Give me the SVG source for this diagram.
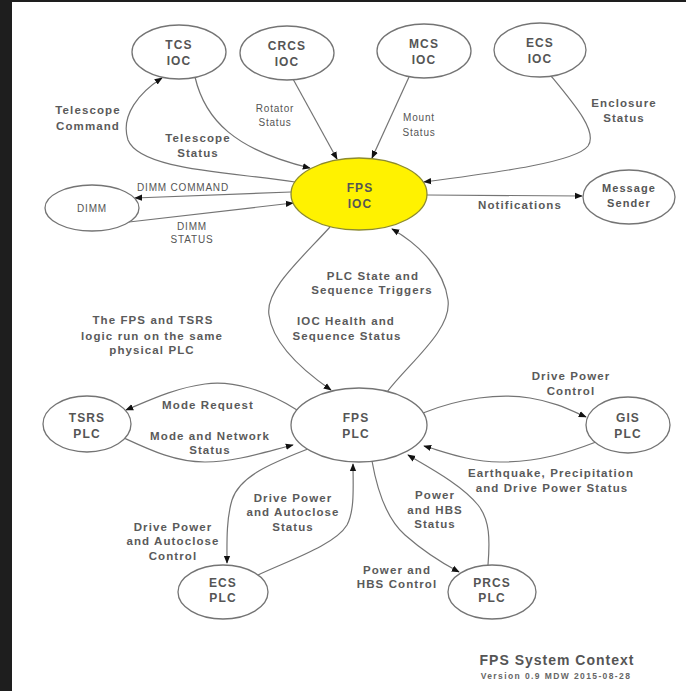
<svg xmlns="http://www.w3.org/2000/svg" width="686" height="691" viewBox="0 0 686 691">
<defs>
<style>
.bg{fill:#ffffff}
.node{fill:#ffffff;stroke:#747474;stroke-width:1.3}
.ioc{fill:#fff200;stroke:#8c8a30;stroke-width:1.3}
.nt{font-family:"Liberation Sans",Arial,sans-serif;font-size:12px;font-weight:bold;fill:#555555;text-anchor:middle;letter-spacing:1.1px}
.lb{font-family:"Liberation Sans",Arial,sans-serif;font-size:11.5px;font-weight:bold;fill:#5a5a5a;text-anchor:middle;letter-spacing:1.1px}
.sm{font-family:"Liberation Sans",Arial,sans-serif;font-size:10px;fill:#555555;text-anchor:middle;letter-spacing:0.8px}
.edge{fill:none;stroke:#747474;stroke-width:1.2;marker-end:url(#arr)}
</style>
<marker id="arr" viewBox="0 0 10 10" refX="9" refY="5" markerWidth="8" markerHeight="8" markerUnits="userSpaceOnUse" orient="auto">
<path d="M0,1 L10,5 L0,9 z" fill="#111111"/>
</marker>
</defs>
<rect x="0" y="0" width="686" height="691" fill="#1e1e1e"/>
<rect x="12" y="2" width="674" height="689" class="bg"/>

<g id="connectors">
<path class="edge" d="M295,182 C230,172 140,170 128,140 C120,115 140,92 162,78"/>
<path class="edge" d="M195,77 C205,120 235,150 310,168"/>
<path class="edge" d="M293,79 L337,159"/>
<path class="edge" d="M409,77 L372,158"/>
<path class="edge" d="M551,76 C575,105 598,132 588,146 C576,162 500,172 424,182"/>
<path class="edge" d="M291,192 L135,198"/>
<path class="edge" d="M129,222 L293,203"/>
<path class="edge" d="M427,195 L582,196"/>
<path class="edge" d="M330,227 C300,260 265,290 269,315 C273,345 305,372 331,390"/>
<path class="edge" d="M387,392 C410,362 452,330 448,300 C444,270 420,245 392,229"/>
<path class="edge" d="M297,410 C265,390 232,380 205,384 C175,388 150,400 126,410"/>
<path class="edge" d="M124,438 C150,450 175,462 205,462 C235,462 265,452 293,445"/>
<path class="edge" d="M423,413 C460,398 500,393 530,398 C555,402 570,410 586,417"/>
<path class="edge" d="M596,442 C570,452 540,462 500,462 C470,462 445,452 424,446"/>
<path class="edge" d="M308,449 C275,462 240,475 232,500 C226,520 227,545 227,563"/>
<path class="edge" d="M258,575 C290,560 335,545 347,525 C355,510 353,485 353,464"/>
<path class="edge" d="M372,461 C378,495 388,520 405,535 C422,550 440,562 459,572"/>
<path class="edge" d="M488,565 C490,540 490,520 478,505 C462,485 430,468 408,455"/>
</g>

<g id="tcs-ioc"><ellipse class="node" cx="179" cy="52" rx="47" ry="27"/><text class="nt" x="179" y="49">TCS</text><text class="nt" x="179" y="65">IOC</text></g>
<g id="crcs-ioc"><ellipse class="node" cx="287" cy="53" rx="47" ry="27"/><text class="nt" x="287" y="50">CRCS</text><text class="nt" x="287" y="66">IOC</text></g>
<g id="mcs-ioc"><ellipse class="node" cx="424" cy="51" rx="47" ry="27"/><text class="nt" x="424" y="48">MCS</text><text class="nt" x="424" y="64">IOC</text></g>
<g id="ecs-ioc"><ellipse class="node" cx="540" cy="50" rx="46" ry="27"/><text class="nt" x="540" y="47">ECS</text><text class="nt" x="540" y="63">IOC</text></g>
<g id="fps-ioc"><ellipse class="ioc" cx="359" cy="194" rx="68" ry="36"/><text class="nt" x="360" y="192">FPS</text><text class="nt" x="360" y="208">IOC</text></g>
<g id="dimm"><ellipse class="node" cx="92" cy="208" rx="47" ry="23"/><text class="sm" x="92" y="212">DIMM</text></g>
<g id="message-sender"><ellipse class="node" cx="629" cy="197" rx="46" ry="27"/><text class="nt" x="629" y="192" style="font-size:11px">Message</text><text class="nt" x="629" y="207" style="font-size:11px">Sender</text></g>
<g id="fps-plc"><ellipse class="node" cx="359" cy="425" rx="68" ry="37"/><text class="nt" x="356" y="422">FPS</text><text class="nt" x="356" y="438">PLC</text></g>
<g id="tsrs-plc"><ellipse class="node" cx="87" cy="424" rx="44" ry="28"/><text class="nt" x="87" y="422">TSRS</text><text class="nt" x="87" y="438">PLC</text></g>
<g id="gis-plc"><ellipse class="node" cx="628" cy="425" rx="42" ry="28"/><text class="nt" x="628" y="422">GIS</text><text class="nt" x="628" y="438">PLC</text></g>
<g id="ecs-plc"><ellipse class="node" cx="223" cy="592" rx="45" ry="27"/><text class="nt" x="223" y="587">ECS</text><text class="nt" x="223" y="602">PLC</text></g>
<g id="prcs-plc"><ellipse class="node" cx="492" cy="592" rx="44" ry="27"/><text class="nt" x="492" y="587">PRCS</text><text class="nt" x="492" y="602">PLC</text></g>

<g id="labels">
<text class="lb" x="88" y="114">Telescope</text><text class="lb" x="88" y="130">Command</text>
<text class="lb" x="198" y="142">Telescope</text><text class="lb" x="198" y="157">Status</text>
<text class="sm" x="275" y="112">Rotator</text><text class="sm" x="275" y="126">Status</text>
<text class="sm" x="419" y="121">Mount</text><text class="sm" x="419" y="136">Status</text>
<text class="lb" x="624" y="107">Enclosure</text><text class="lb" x="624" y="122">Status</text>
<text class="sm" x="183" y="191">DIMM COMMAND</text>
<text class="sm" x="192" y="230">DIMM</text><text class="sm" x="192" y="243">STATUS</text>
<text class="lb" x="520" y="209">Notifications</text>
<text class="lb" x="373" y="280">PLC State and</text><text class="lb" x="372" y="294">Sequence Triggers</text>
<text class="lb" x="346" y="325">IOC Health and</text><text class="lb" x="347" y="340">Sequence Status</text>
<text class="lb" x="153" y="324">The FPS and TSRS</text><text class="lb" x="152" y="340">logic run on the same</text><text class="lb" x="152" y="354">physical PLC</text>
<text class="lb" x="571" y="380">Drive Power</text><text class="lb" x="571" y="395">Control</text>
<text class="lb" x="208" y="409">Mode Request</text>
<text class="lb" x="210" y="440">Mode and Network</text><text class="lb" x="210" y="454">Status</text>
<text class="lb" x="551" y="477">Earthquake, Precipitation</text><text class="lb" x="552" y="492">and Drive Power Status</text>
<text class="lb" x="293" y="502">Drive Power</text><text class="lb" x="293" y="516">and Autoclose</text><text class="lb" x="293" y="531">Status</text>
<text class="lb" x="435" y="499">Power</text><text class="lb" x="435" y="514">and HBS</text><text class="lb" x="435" y="528">Status</text>
<text class="lb" x="173" y="531">Drive Power</text><text class="lb" x="173" y="545">and Autoclose</text><text class="lb" x="173" y="560">Control</text>
<text class="lb" x="397" y="574">Power and</text><text class="lb" x="397" y="588">HBS Control</text>
<text x="557" y="665" style="font-family:'Liberation Sans',Arial,sans-serif;font-size:14px;font-weight:bold;fill:#555555;text-anchor:middle;letter-spacing:1px">FPS System Context</text>
<text x="556" y="679" style="font-family:'Liberation Sans',Arial,sans-serif;font-size:8.5px;font-weight:bold;fill:#666666;text-anchor:middle;letter-spacing:1.4px">Version 0.9 MDW 2015-08-28</text>
</g>
</svg>
